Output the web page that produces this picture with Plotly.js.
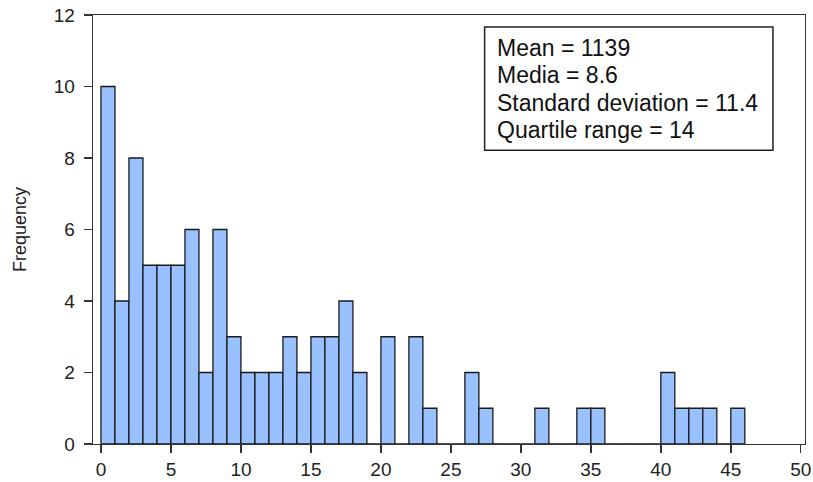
<!DOCTYPE html>
<html>
<head>
<meta charset="utf-8">
<script src="https://cdn.plot.ly/plotly-3.0.1.min.js"></script>
<style>html,body{margin:0;padding:0;background:#fff;}#chart{width:813px;height:482px;}</style>
</head>
<body>
<div id="chart"></div>
<script>
// Histogram bins (left edge of each unit-width bin) and frequencies
const binStarts = [0,1,2,3,4,5,6,7,8,9,10,11,12,13,14,15,16,17,18,19,20,21,22,23,24,25,26,27,28,29,30,31,32,33,34,35,36,37,38,39,40,41,42,43,44,45];
const frequencies = [10,4,8,5,5,5,6,2,6,3,2,2,2,3,2,3,3,4,2,0,3,0,3,1,0,0,2,1,0,0,0,1,0,0,1,1,0,0,0,0,2,1,1,1,0,1];
const xTicks = [0,5,10,15,20,25,30,35,40,45,50];
const yTicks = [0,2,4,6,8,10,12];
const statLines = ["Mean = 1139","Media = 8.6","Standard deviation = 11.4","Quartile range = 14"];

const font = "Liberation Sans, Arial, sans-serif";
const trace = {
  type: 'bar',
  x: binStarts,
  y: frequencies,
  width: 1,
  offset: 0,
  marker: {color: '#99c0ff', line: {color: '#1a1a1a', width: 1.3}},
  hoverinfo: 'x+y'
};
const lineY = [0.9231, 0.8601, 0.7949, 0.7319];
const layout = {
  width: 813, height: 482,
  margin: {l: 93, r: 8, t: 15, b: 38},
  paper_bgcolor: '#ffffff', plot_bgcolor: '#ffffff',
  font: {family: font, size: 19, color: '#222'},
  showlegend: false,
  bargap: 0,
  xaxis: {
    range: [-0.57, 50.3], tickvals: xTicks, ticktext: xTicks.map(String),
    ticks: 'outside', ticklen: 8, tickwidth: 1.4, tickcolor: '#333',
    showline: true, linecolor: '#333', linewidth: 1.4, mirror: true,
    showgrid: false, zeroline: false, automargin: false,
    tickfont: {family: font, size: 19, color: '#222'}
  },
  yaxis: {
    range: [0, 12], tickvals: yTicks, ticktext: yTicks.map(String),
    ticks: 'outside', ticklen: 8, tickwidth: 1.4, tickcolor: '#333',
    showline: true, linecolor: '#333', linewidth: 1.4, mirror: true,
    showgrid: false, zeroline: false, automargin: false,
    ticklabelstandoff: 5,
    tickfont: {family: font, size: 19, color: '#222'},
    title: {text: 'Frequency', font: {family: font, size: 18, color: '#222'}, standoff: 22}
  },
  shapes: [{
    type: 'rect', xref: 'paper', yref: 'paper',
    x0: 0.55, x1: 0.955, y0: 0.685, y1: 0.972,
    line: {color: '#222', width: 1.5}, fillcolor: 'rgba(0,0,0,0)'
  }],
  annotations: statLines.map((t, i) => ({
    xref: 'paper', yref: 'paper', x: 0.565, y: lineY[i],
    xanchor: 'left', yanchor: 'middle', align: 'left',
    showarrow: false, text: t,
    font: {family: font, size: 23, color: '#111'}
  }))
};
Plotly.newPlot('chart', [trace], layout, {displayModeBar: false, staticPlot: true});
</script>
</body>
</html>
